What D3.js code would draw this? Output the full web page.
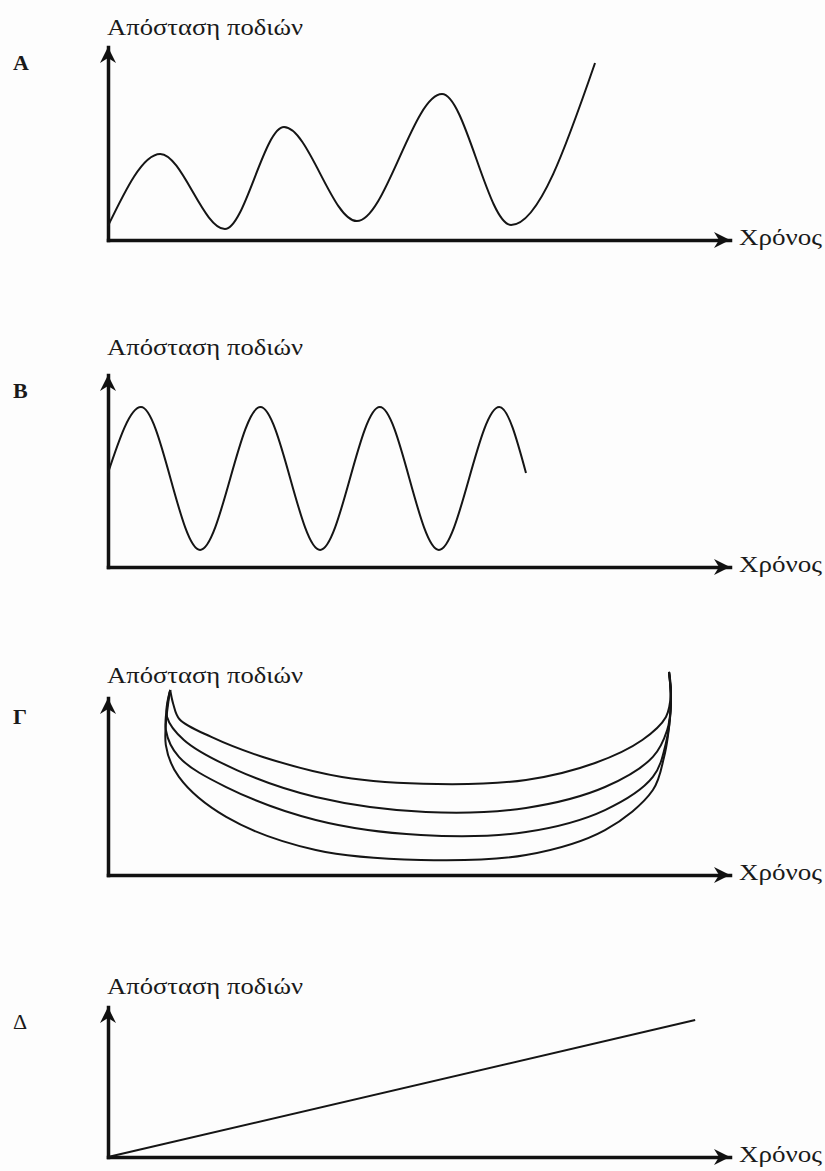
<!DOCTYPE html>
<html>
<head>
<meta charset="utf-8">
<script src="https://cdn.jsdelivr.net/npm/d3@7"></script>
<style>
  body { margin: 0; background: #fff; }
  .axis path { stroke: #111; stroke-width: 3.5px; stroke-linecap: square; }
  .curve { fill: none; stroke: #151515; stroke-width: 2px; }
  .label { font-family: "Liberation Serif", serif; fill: #1a1a1a; }
</style>
</head>
<body>
<div class="container"></div>
<script>
const WIDTH = 825;
const HEIGHT = 1171;

// texts
var panelLetters = ['Α', 'Β', 'Γ', 'Δ'];
var yTitle = 'Απόσταση ποδιών';
var xTitle = 'Χρόνος';

// panel A (time, distance)
var timeA = [0, 8.4, 18.8, 28.3, 40.0, 53.7, 64.8, 78.3];
var distA = [7.3, 44.6, 5.7, 58.5, 9.8, 75.6, 7.8, 91.7];

// panel B
var timeB = [0, 5.3, 14.8, 24.5, 34.1, 43.7, 53.2, 62.9, 67.2];
var distB = [49.0, 83.3, 8.9, 83.3, 8.9, 83.3, 8.9, 83.3, 49.0];

// panel Γ, four loops of the coil
var coilTime1 = [10.0, 10.5, 11.5, 16.6, 24.9, 37.6, 52.9, 67.2, 78.3, 85.9, 89.7, 90.5, 90.2];
var coilDist1 = [104.5, 96.5, 88.0, 78.0, 66.7, 55.4, 51.4, 53.7, 63.3, 76.3, 89.3, 102.8, 114.7];
var coilTime2 = [10.0, 9.5, 12.2, 20.7, 33.4, 51.1, 67.2, 79.9, 87.6, 89.9, 90.5, 90.2];
var coilDist2 = [104.5, 89.3, 76.3, 59.3, 44.1, 35.6, 37.9, 49.7, 66.7, 81.9, 97.2, 114.7];
var coilTime3 = [10.0, 9.3, 11.4, 19.0, 33.4, 50.3, 67.2, 79.9, 87.6, 89.7, 90.5, 90.2];
var coilDist3 = [104.5, 81.9, 66.7, 49.7, 31.1, 22.6, 24.3, 36.7, 55.4, 74.6, 97.2, 114.7];
var coilTime4 = [10.0, 9.3, 11.4, 19.0, 33.4, 50.3, 67.2, 79.9, 87.6, 89.4, 90.0, 90.5, 90.2];
var coilDist4 = [104.5, 73.4, 55.4, 32.8, 14.1, 8.5, 11.3, 25.4, 48.0, 66.7, 78.0, 97.2, 114.7];

// panel Δ
var timeD = [0, 94.4];
var distD = [0, 91.3];

var zip = function(xs, ys) {
    return xs.map((x, i) => [x, ys[i]]);
};

// layout of each panel: y of x axis, y of arrow tip, baselines of texts
var panels = [
    { bottom: 240, top: 47, titleY: 35, letterY: 70, bold: true,
      lines: [zip(timeA, distA)], curve: d3.curveMonotoneX },
    { bottom: 567, top: 375, titleY: 355, letterY: 398, bold: true,
      lines: [zip(timeB, distB)], curve: d3.curveMonotoneX },
    { bottom: 875, top: 698, titleY: 683, letterY: 724, bold: true,
      lines: [zip(coilTime1, coilDist1), zip(coilTime2, coilDist2),
              zip(coilTime3, coilDist3), zip(coilTime4, coilDist4)],
      curve: d3.curveCatmullRom.alpha(0.5) },
    { bottom: 1157, top: 1007, titleY: 994, letterY: 1029, bold: false,
      lines: [zip(timeD, distD)], curve: d3.curveLinear }
];

var arrowHead = 'M0,0L-16,-8L-11,0L-16,8Z';

var svg = d3.select('.container').append('svg')
    .attr('width', WIDTH)
    .attr('height', HEIGHT);

svg.append('rect')
    .attr('width', WIDTH)
    .attr('height', HEIGHT)
    .attr('fill', '#fdfdfd');

let xScale = d3.scaleLinear()
    .domain([0, 100])
    .range([108, 730]);

panels.forEach(function(p, i) {
    let yScale = d3.scaleLinear()
        .domain([0, 100])
        .range([p.bottom, p.top]);

    let g = svg.append('g');

    g.append('g')
        .classed('axis', true)
        .attr('transform', `translate(0,${p.bottom})`)
        .call(d3.axisBottom(xScale).tickValues([]).tickSizeOuter(0));

    g.append('g')
        .classed('axis', true)
        .attr('transform', `translate(${xScale(0)},0)`)
        .call(d3.axisLeft(yScale).tickValues([]).tickSizeOuter(0));

    // arrow heads
    g.append('path')
        .attr('d', arrowHead)
        .attr('fill', '#111')
        .attr('transform', `translate(${xScale(100)},${yScale(0)})`);
    g.append('path')
        .attr('d', arrowHead)
        .attr('fill', '#111')
        .attr('transform', `translate(${xScale(0)},${yScale(100)}) rotate(-90)`);

    let line = d3.line()
        .x(([x, y]) => xScale(x))
        .y(([x, y]) => yScale(y))
        .curve(p.curve);

    p.lines.forEach(function(pts) {
        g.append('path')
            .classed('curve', true)
            .attr('d', line(pts));
    });

    g.append('text')
        .classed('label', true)
        .attr('x', 107)
        .attr('y', p.titleY)
        .attr('font-size', 24)
        .attr('textLength', 196)
        .attr('lengthAdjust', 'spacingAndGlyphs')
        .text(yTitle);

    g.append('text')
        .classed('label', true)
        .attr('x', 739)
        .attr('y', p.bottom + 5)
        .attr('font-size', 24)
        .attr('textLength', 83)
        .attr('lengthAdjust', 'spacingAndGlyphs')
        .text(xTitle);

    g.append('text')
        .classed('label', true)
        .attr('x', 13)
        .attr('y', p.letterY)
        .attr('font-size', 22)
        .attr('font-weight', p.bold ? 'bold' : 'normal')
        .text(panelLetters[i]);
});
</script>
</body>
</html>
